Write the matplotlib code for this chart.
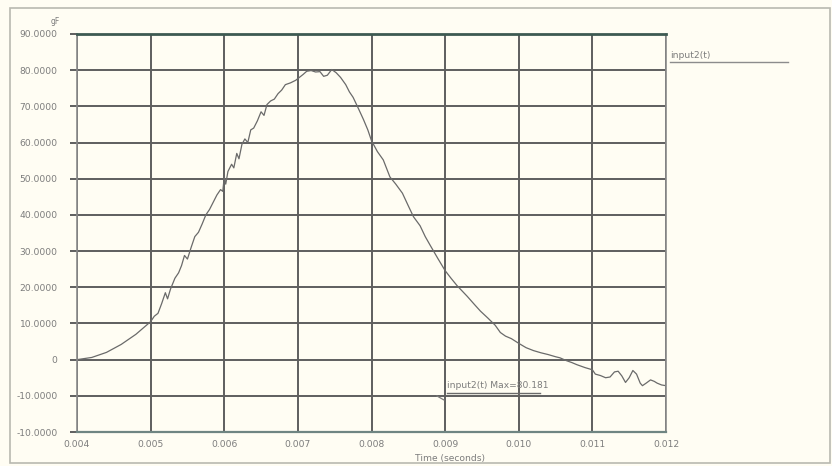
import matplotlib
matplotlib.use("Agg")
import matplotlib.pyplot as plt
from matplotlib.lines import Line2D
from matplotlib.patches import Rectangle

# Acceleration trace input2(t) versus time
time_s = [
    0.00400, 0.00420, 0.00440, 0.00460, 0.00480, 0.00500, 0.00505, 0.00510,
    0.00515, 0.00520, 0.00523, 0.00527, 0.00533, 0.00538, 0.00542, 0.00546,
    0.00550, 0.00555, 0.00560, 0.00565, 0.00570, 0.00575, 0.00580, 0.00585,
    0.00590, 0.00595, 0.00598, 0.00600, 0.00602, 0.00605, 0.00610, 0.00613,
    0.00617, 0.00620, 0.00624, 0.00628, 0.00632, 0.00636, 0.00640, 0.00645,
    0.00650, 0.00654, 0.00658, 0.00663, 0.00668, 0.00673, 0.00678, 0.00683,
    0.00690, 0.00697, 0.00702, 0.00707, 0.00712, 0.00718, 0.00724, 0.00730,
    0.00735, 0.00740, 0.00746, 0.00752, 0.00758, 0.00765, 0.00770, 0.00775,
    0.00782, 0.00789, 0.00795, 0.00800, 0.00808, 0.00816, 0.00825, 0.00833,
    0.00842, 0.00850, 0.00857, 0.00866, 0.00873, 0.00880, 0.00890, 0.00900,
    0.00908, 0.00916, 0.00923, 0.00930, 0.00940, 0.00948, 0.00958, 0.00968,
    0.00975, 0.00982, 0.00990, 0.01000, 0.01010, 0.01020, 0.01030, 0.01040,
    0.01050, 0.01056, 0.01065, 0.01072, 0.01079, 0.01090, 0.01100, 0.01104,
    0.01111, 0.01118, 0.01124, 0.01130, 0.01135, 0.01140, 0.01145, 0.01150,
    0.01155, 0.01160, 0.01165, 0.01168, 0.01173, 0.01179, 0.01184, 0.01188,
    0.01194, 0.01200,
]
accel_g = [
    0.0, 0.6, 2.0, 4.2, 7.0, 10.5, 12.0, 12.8,
    15.5, 18.5, 16.8, 19.5, 22.5, 24.0, 26.0, 28.8,
    27.8, 31.0, 34.0, 35.2, 37.5, 40.0, 41.5, 43.5,
    45.5, 47.0, 46.5, 50.5, 48.5, 52.0, 54.0, 53.0,
    57.0, 55.5, 59.5, 61.0, 60.0, 63.5, 64.0, 66.0,
    68.5, 67.5, 70.5, 71.5, 72.0, 73.5, 74.5, 76.0,
    76.5, 77.2, 78.0, 78.8, 79.7, 79.9, 79.5, 79.6,
    78.3, 78.6, 80.181, 79.3, 78.0, 76.0, 74.0, 72.5,
    69.5, 66.4, 63.5, 60.5, 57.5, 55.2, 50.5, 48.5,
    46.0, 42.5, 39.5, 37.0, 34.0, 31.5, 28.0, 24.6,
    22.5, 20.5, 19.0, 17.5, 15.2, 13.4, 11.5, 9.5,
    7.5, 6.5, 5.8, 4.5, 3.3, 2.5, 1.9, 1.4,
    0.8, 0.5, -0.3, -0.8, -1.4, -2.2, -2.8, -4.0,
    -4.4, -5.0, -4.8, -3.4, -3.2, -4.5, -6.3, -5.0,
    -3.0, -4.0, -6.5, -7.2, -6.5, -5.6, -6.0, -6.5,
    -7.0, -7.2,
]

x_ticks = [0.004, 0.005, 0.006, 0.007, 0.008, 0.009, 0.010, 0.011, 0.012]
x_tick_labels = ["0.004", "0.005", "0.006", "0.007", "0.008", "0.009",
                 "0.010", "0.011", "0.012"]
y_ticks = [90, 80, 70, 60, 50, 40, 30, 20, 10, 0, -10, -20]
y_tick_labels = ["90.0000", "80.0000", "70.0000", "60.0000", "50.0000",
                 "40.0000", "30.0000", "20.0000", "10.0000", "0",
                 "-10.0000", "-10.0000"]

series_name = "input2(t)"
peak_value = max(accel_g)

BG = "#fffdf3"
GRID = "#5e5e5e"
TXT = "#7c7c7c"
CURVE = "#6a6a6a"
FS = 6.6

fig = plt.figure(figsize=(8.32, 4.66), dpi=100, facecolor=BG)
W, H = 832, 466

def fx(px):
    return px / W

def fy(py):
    return 1 - py / H

# outer frame
fig.patches.append(Rectangle((fx(10), fy(463)), fx(820), 455 / H,
                             transform=fig.transFigure, fill=False,
                             edgecolor="#b9b9b0", linewidth=1.2))

ax = fig.add_axes([fx(77), fy(432), fx(666 - 77), (432 - 34) / H])
ax.set_facecolor(BG)
ax.set_xlim(0.004, 0.012)
ax.set_ylim(-20, 90)

ax.set_xticks(x_ticks)
ax.set_xticklabels(x_tick_labels)
ax.set_yticks(y_ticks)
ax.set_yticklabels(y_tick_labels)
ax.tick_params(axis="x", length=0, pad=6, labelsize=FS, labelcolor=TXT)
ax.tick_params(axis="y", length=5, width=1.4, color=GRID, pad=9,
               labelsize=FS, labelcolor=TXT)

ax.grid(True, color=GRID, linewidth=1.4)
ax.set_axisbelow(True)
for side in ("left", "right"):
    ax.spines[side].set_color("#8a8a8a")
    ax.spines[side].set_linewidth(1.2)
ax.spines["top"].set_color("#3d5a52")
ax.spines["top"].set_linewidth(2.0)
ax.spines["bottom"].set_color("#6f8582")
ax.spines["bottom"].set_linewidth(1.6)

ax.plot(time_s, accel_g, color=CURVE, linewidth=0.9)

# unit label above the value axis
fig.text(fx(55), fy(22), "gF", fontsize=5.5, color=TXT, ha="center", va="center")

# axis title
fig.text(fx(450), fy(459), "Time (seconds)", fontsize=FS, color=TXT,
         ha="center", va="center")

# legend entry at the right
fig.text(fx(670), fy(56), series_name, fontsize=FS, color=TXT,
         ha="left", va="center")
fig.lines.append(Line2D([fx(670), fx(788)], [fy(61.5), fy(61.5)],
                        transform=fig.transFigure, color="#8c8c8c",
                        linewidth=1.0))

# peak annotation
fig.text(fx(447), fy(386), f"{series_name} Max={peak_value:.3f}",
         fontsize=FS, color=TXT, ha="left", va="center")
fig.lines.append(Line2D([fx(447), fx(540)], [fy(392.5), fy(392.5)],
                        transform=fig.transFigure, color="#6a6a6a",
                        linewidth=1.0))
fig.lines.append(Line2D([fx(437), fx(444)], [fy(396), fy(400)],
                        transform=fig.transFigure, color="#7a7a7a",
                        linewidth=0.9))

fig.savefig("out.png", dpi=100, facecolor=BG)
